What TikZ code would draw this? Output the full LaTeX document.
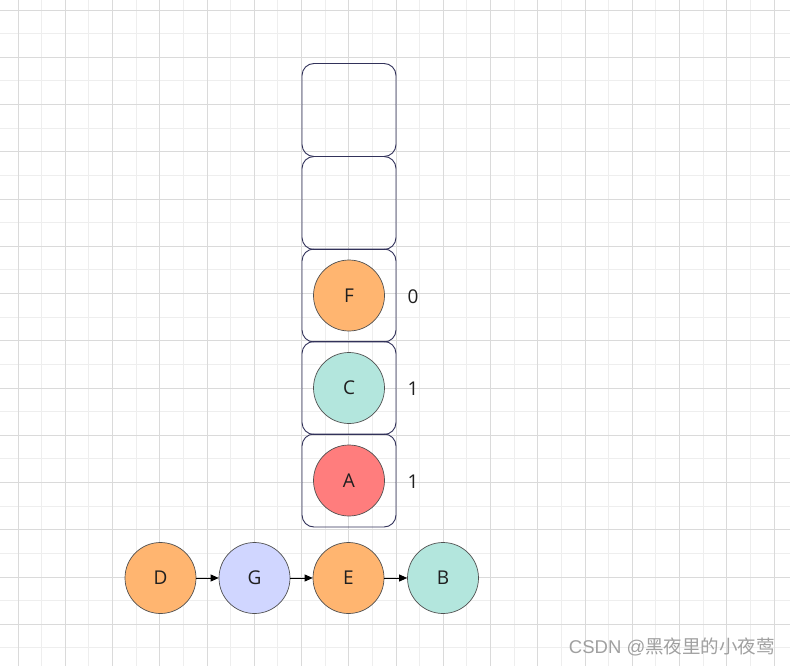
\documentclass[tikz,border=0pt]{standalone}
\usepackage{fontspec}
\setmainfont{Open Sans}
\newfontfamily\wmfont{Liberation Sans}
\newfontfamily\cjkfont{Noto Sans CJK SC}
\usetikzlibrary{arrows.meta}
\definecolor{gridmajor}{RGB}{218,218,218}
\definecolor{gridminor}{RGB}{238,238,238}
\definecolor{boxline}{RGB}{50,50,90}
\definecolor{circline}{RGB}{80,80,80}
\definecolor{orangefill}{RGB}{255,181,112}
\definecolor{tealfill}{RGB}{179,230,221}
\definecolor{redfill}{RGB}{255,125,125}
\definecolor{bluefill}{RGB}{208,214,255}
\definecolor{wmgray}{RGB}{160,160,160}
\tikzset{
  stackbox/.style={draw=boxline, line width=0.9pt, rounded corners=12pt,
    minimum width=94pt, minimum height=93pt, inner sep=0pt},
  ball/.style={circle, draw=circline, line width=0.7pt, minimum size=71pt,
    inner sep=0pt, font=\fontsize{19}{22}\selectfont, text=black!88},
  cnt/.style={font=\fontsize{19}{22}\selectfont, inner sep=0pt, text=black!88},
  arr/.style={line width=0.9pt, -{Triangle[length=8pt,width=7pt]}},
}
\begin{document}
\begin{tikzpicture}[x=1pt,y=-1pt]
\useasboundingbox (0,0) rectangle (790,666);
\fill[white] (0,0) rectangle (790,666);
% grid
\foreach \k in {1,3,...,31} {
  \draw[gridminor, line width=0.8pt] ({18+23.625*\k},0) -- ({18+23.625*\k},666);
}
\foreach \k in {1,3,...,27} {
  \draw[gridminor, line width=0.8pt] (0,{10+23.625*\k}) -- (790,{10+23.625*\k});
}
\foreach \k in {0,2,...,32} {
  \draw[gridmajor, line width=0.8pt] ({18+23.625*\k},0) -- ({18+23.625*\k},666);
}
\foreach \k in {0,2,...,28} {
  \draw[gridmajor, line width=0.8pt] (0,{10+23.625*\k}) -- (790,{10+23.625*\k});
}
% stack
\node[stackbox] (s5) at (349,110) {};
\node[stackbox] (s4) at (349,203) {};
\node[stackbox] (s3) at (349,295.5) {};
\node[stackbox] (s2) at (349,388) {};
\node[stackbox] (s1) at (349,480.5) {};
\node[ball, fill=orangefill] (F) at (s3.center) {F};
\node[ball, fill=tealfill] (C) at (s2.center) {C};
\node[ball, fill=redfill] (A) at (s1.center) {A};
\node[cnt] (nF) at (413,296.5) {0};
\node[cnt] (nC) at (413,389) {1};
\node[cnt] (nA) at (413,482) {1};
% queue
\node[ball, fill=orangefill] (D) at (160.5,578) {D};
\node[ball, fill=bluefill] (G) at (254.5,578) {G};
\node[ball, fill=orangefill] (E) at (348.5,578) {E};
\node[ball, fill=tealfill] (B) at (443,578) {B};
\draw[arr] (D) -- (G);
\draw[arr] (G) -- (E);
\draw[arr] (E) -- (B);
% watermark
\node[anchor=east, inner sep=0pt, text=wmgray] (wm) at (775,647)
  {\wmfont\fontsize{18.5}{21}\selectfont CSDN @\cjkfont 黑夜里的小夜莺};
\end{tikzpicture}
\end{document}
